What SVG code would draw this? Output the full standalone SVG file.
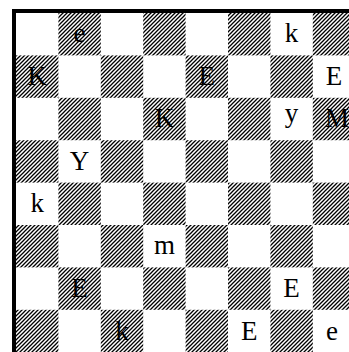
<svg xmlns="http://www.w3.org/2000/svg" width="349" height="352" viewBox="0 0 349 352">
  <defs>
    <pattern id="hatch" patternUnits="userSpaceOnUse" width="4" height="4">
      <path d="M-1,1 L1,-1 M0,4 L4,0 M3,5 L5,3" stroke="#000" stroke-width="1.3" fill="none"/>
    </pattern>
  </defs>
  <style>
    .d { fill: url(#hatch); }
    .p { font-family: "Liberation Serif", "Times New Roman", serif; font-size: 27px; fill: #000; text-anchor: middle; }
  </style>
  <rect x="0" y="0" width="349" height="352" fill="#fff"/>
  <g id="board">
    <!-- cell size 42.4, origin (16,13); hatched where row+col is odd -->
    <rect class="d" x="58.4" y="13" width="42.4" height="42.4"/>
    <rect class="d" x="143.2" y="13" width="42.4" height="42.4"/>
    <rect class="d" x="228" y="13" width="42.4" height="42.4"/>
    <rect class="d" x="312.8" y="13" width="42.4" height="42.4"/>

    <rect class="d" x="16" y="55.4" width="42.4" height="42.4"/>
    <rect class="d" x="100.8" y="55.4" width="42.4" height="42.4"/>
    <rect class="d" x="185.6" y="55.4" width="42.4" height="42.4"/>
    <rect class="d" x="270.4" y="55.4" width="42.4" height="42.4"/>

    <rect class="d" x="58.4" y="97.8" width="42.4" height="42.4"/>
    <rect class="d" x="143.2" y="97.8" width="42.4" height="42.4"/>
    <rect class="d" x="228" y="97.8" width="42.4" height="42.4"/>
    <rect class="d" x="312.8" y="97.8" width="42.4" height="42.4"/>

    <rect class="d" x="16" y="140.2" width="42.4" height="42.4"/>
    <rect class="d" x="100.8" y="140.2" width="42.4" height="42.4"/>
    <rect class="d" x="185.6" y="140.2" width="42.4" height="42.4"/>
    <rect class="d" x="270.4" y="140.2" width="42.4" height="42.4"/>

    <rect class="d" x="58.4" y="182.6" width="42.4" height="42.4"/>
    <rect class="d" x="143.2" y="182.6" width="42.4" height="42.4"/>
    <rect class="d" x="228" y="182.6" width="42.4" height="42.4"/>
    <rect class="d" x="312.8" y="182.6" width="42.4" height="42.4"/>

    <rect class="d" x="16" y="225" width="42.4" height="42.4"/>
    <rect class="d" x="100.8" y="225" width="42.4" height="42.4"/>
    <rect class="d" x="185.6" y="225" width="42.4" height="42.4"/>
    <rect class="d" x="270.4" y="225" width="42.4" height="42.4"/>

    <rect class="d" x="58.4" y="267.4" width="42.4" height="42.4"/>
    <rect class="d" x="143.2" y="267.4" width="42.4" height="42.4"/>
    <rect class="d" x="228" y="267.4" width="42.4" height="42.4"/>
    <rect class="d" x="312.8" y="267.4" width="42.4" height="42.4"/>

    <rect class="d" x="16" y="309.8" width="42.4" height="42.4"/>
    <rect class="d" x="100.8" y="309.8" width="42.4" height="42.4"/>
    <rect class="d" x="185.6" y="309.8" width="42.4" height="42.4"/>
    <rect class="d" x="270.4" y="309.8" width="42.4" height="42.4"/>
  </g>
  <rect id="frame" x="14" y="11" width="343" height="343" fill="none" stroke="#000" stroke-width="4"/>
  <g id="pieces">
    <text class="p" x="79.6" y="42">e</text>
    <text class="p" x="291.6" y="42">k</text>
    <text class="p" x="37.2" y="85">K</text>
    <text class="p" x="206.8" y="85">E</text>
    <text class="p" x="334" y="85">E</text>
    <text class="p" x="164.4" y="127">K</text>
    <text class="p" x="291.6" y="122">y</text>
    <text class="p" x="337" y="127">M</text>
    <text class="p" x="79.6" y="170">Y</text>
    <text class="p" x="37.2" y="212">k</text>
    <text class="p" x="164.4" y="254">m</text>
    <text class="p" x="79.6" y="297">E</text>
    <text class="p" x="291.6" y="297">E</text>
    <text class="p" x="122" y="340">k</text>
    <text class="p" x="249.2" y="340">E</text>
    <text class="p" x="332" y="340">e</text>
  </g>
</svg>
